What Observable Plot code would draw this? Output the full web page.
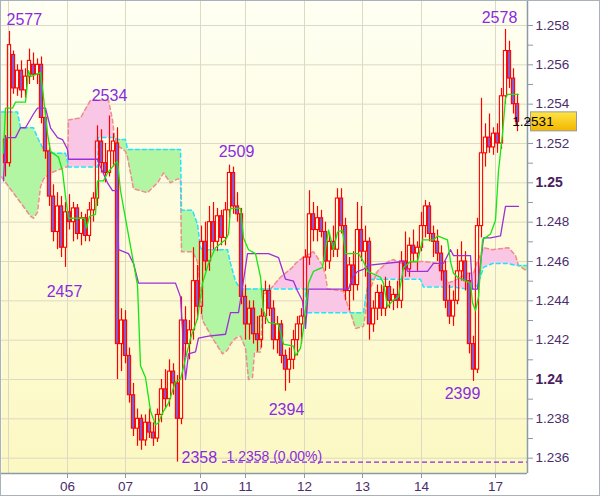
<!DOCTYPE html>
<html>
<head>
<meta charset="utf-8">
<script src="https://cdn.jsdelivr.net/npm/d3@7"></script>
<script src="https://cdn.jsdelivr.net/npm/@observablehq/plot@0.6"></script>
<style>
  html, body { margin: 0; padding: 0; background: #ffffff; }
  #chart { width: 600px; height: 497px; }
</style>
</head>
<body>
<div id="chart"></div>
<script>
// ---- Candles (one bar per index) ----
const opens = [1.2522,1.2510,1.2565,1.2548,1.2557,1.2547,1.2554,1.2560,1.2555,1.2560,
1.2533,1.2516,1.2493,1.2475,1.2488,1.2467,1.2485,1.2480,1.2487,1.2474,
1.2482,1.2473,1.2486,1.2492,1.2521,1.2510,1.2505,1.2516,1.2520,1.2418,
1.2430,1.2412,1.2392,1.2375,1.2380,1.2369,1.2378,1.2373,1.2370,1.2382,
1.2395,1.2390,1.2404,1.2398,1.2380,1.2430,1.2418,1.2425,1.2450,1.2437,
1.2470,1.2460,1.2480,1.2470,1.2483,1.2472,1.2486,1.2505,1.2488,1.2484,
1.2442,1.2428,1.2436,1.2423,1.2420,1.2432,1.2445,1.2436,1.2420,1.2428,
1.2412,1.2405,1.2410,1.2420,1.2428,1.2432,1.2462,1.2484,1.2476,1.2482,
1.2475,1.2460,1.2470,1.2466,1.2492,1.2478,1.2445,1.2458,1.2448,1.2476,
1.2465,1.2470,1.2428,1.2436,1.2444,1.2436,1.2447,1.2440,1.2443,1.2440,
1.2460,1.2456,1.2468,1.2464,1.2467,1.2478,1.2488,1.2474,1.2470,1.2464,
1.2455,1.2440,1.2432,1.2440,1.2455,1.2460,1.2450,1.2418,1.2405,1.2478,
1.2515,1.2523,1.2518,1.2525,1.2520,1.2544,1.2567,1.2553,1.2540];
const highs = [1.2524,1.2577,1.2567,1.2560,1.2562,1.2558,1.2568,1.2566,1.2563,1.2564,
1.2537,1.2520,1.2499,1.2495,1.2493,1.2490,1.2494,1.2490,1.2489,1.2485,
1.2484,1.2490,1.2495,1.2529,1.2527,1.2520,1.2534,1.2525,1.2528,1.2436,
1.2435,1.2416,1.2398,1.2385,1.2382,1.2382,1.2385,1.2378,1.2385,1.2400,
1.2405,1.2410,1.2408,1.2402,1.2442,1.2437,1.2430,1.2467,1.2458,1.2478,
1.2480,1.2488,1.2490,1.2487,1.2486,1.2490,1.2509,1.2508,1.2495,1.2487,
1.2448,1.2440,1.2440,1.2432,1.2436,1.2450,1.2448,1.2440,1.2432,1.2430,
1.2415,1.2416,1.2425,1.2432,1.2436,1.2466,1.2496,1.2490,1.2488,1.2486,
1.2480,1.2474,1.2478,1.2497,1.2497,1.2482,1.2462,1.2465,1.2490,1.2488,
1.2478,1.2472,1.2440,1.2448,1.2448,1.2452,1.2450,1.2446,1.2450,1.2465,
1.2475,1.2472,1.2476,1.2470,1.2485,1.2491,1.2490,1.2478,1.2476,1.2468,
1.2460,1.2448,1.2445,1.2466,1.2470,1.2465,1.2454,1.2422,1.2482,1.2543,
1.2530,1.2535,1.2528,1.2530,1.2548,1.2578,1.2572,1.2558,1.2545];
const lows = [1.2503,1.2508,1.2545,1.2544,1.2543,1.2543,1.2550,1.2552,1.2550,1.2530,
1.2512,1.2488,1.2470,1.2466,1.2462,1.2457,1.2476,1.2470,1.2471,1.2468,
1.2470,1.2470,1.2480,1.2488,1.2505,1.2500,1.2503,1.2508,1.2400,1.2404,
1.2408,1.2388,1.2371,1.2366,1.2364,1.2366,1.2370,1.2366,1.2368,1.2378,
1.2385,1.2386,1.2392,1.2358,1.2377,1.2411,1.2410,1.2420,1.2430,1.2433,
1.2455,1.2455,1.2466,1.2465,1.2468,1.2468,1.2482,1.2484,1.2480,1.2438,
1.2420,1.2420,1.2418,1.2414,1.2416,1.2428,1.2432,1.2415,1.2413,1.2408,
1.2394,1.2398,1.2405,1.2412,1.2418,1.2428,1.2458,1.2470,1.2470,1.2472,
1.2455,1.2456,1.2462,1.2462,1.2474,1.2440,1.2435,1.2440,1.2445,1.2460,
1.2452,1.2420,1.2424,1.2430,1.2432,1.2432,1.2436,1.2435,1.2436,1.2436,
1.2452,1.2452,1.2460,1.2455,1.2465,1.2472,1.2470,1.2462,1.2460,1.2450,
1.2436,1.2428,1.2427,1.2438,1.2450,1.2445,1.2413,1.2399,1.2403,1.2472,
1.2508,1.2515,1.2514,1.2515,1.2517,1.2540,1.2548,1.2535,1.2526];
const closes = [1.2510,1.2570,1.2548,1.2557,1.2547,1.2554,1.2562,1.2555,1.2560,1.2533,
1.2516,1.2493,1.2475,1.2488,1.2467,1.2485,1.2480,1.2487,1.2474,1.2482,
1.2473,1.2486,1.2492,1.2521,1.2510,1.2505,1.2516,1.2521,1.2418,1.2430,
1.2412,1.2392,1.2375,1.2380,1.2369,1.2378,1.2373,1.2370,1.2382,1.2395,
1.2390,1.2404,1.2398,1.2380,1.2430,1.2418,1.2425,1.2450,1.2437,1.2470,
1.2460,1.2480,1.2470,1.2483,1.2472,1.2486,1.2505,1.2488,1.2484,1.2442,
1.2428,1.2436,1.2423,1.2420,1.2432,1.2445,1.2436,1.2420,1.2428,1.2412,
1.2405,1.2410,1.2420,1.2428,1.2432,1.2462,1.2484,1.2476,1.2482,1.2475,
1.2460,1.2470,1.2466,1.2492,1.2478,1.2445,1.2458,1.2448,1.2476,1.2465,
1.2470,1.2428,1.2436,1.2444,1.2436,1.2447,1.2440,1.2443,1.2440,1.2460,
1.2456,1.2468,1.2464,1.2467,1.2478,1.2488,1.2474,1.2470,1.2464,1.2455,
1.2440,1.2432,1.2440,1.2455,1.2460,1.2450,1.2418,1.2405,1.2478,1.2515,
1.2523,1.2518,1.2525,1.2520,1.2544,1.2567,1.2553,1.2540,1.2531];

// ---- Ichimoku lines (bar position, price) ----
const tenkanX = [-0.5,0,1.75,2.5,5,5.75,6.25,8.75,9.25,10.5,11.25,13.25,14.25,15,15.75,19.75,20.25,21,22.5,23,24.5,25.5,27.5,28,28.75,33,33.75,35,36.25,37.5,38.25,39.25,40.75,42.5,43.75,46.25,48,49.25,50.75,52.5,55,55.75,56.25,58.75,59.5,60.75,62.5,63.75,64.5,65.75,68.25,69.5,72,72.5,73.75,74.5,75.75,77,79.25,80,80.75,82,83,84.25,85,88.25,89.5,90.5,93.75,94.5,95.5,96.75,98.25,99.5,101.25,103,104.25,107,108,110.5,111.25,112,113,116.25,116.75,117.5,118.25,119.25,121.25,122.5,123.25,124.25,125,125.5,128.25];
const tenkanV = [1.2515,1.2538,1.2538,1.2541,1.2541,1.2557,1.2554,1.2556,1.2548,1.2525,1.2516,1.2513,1.2506,1.2493,1.2482,1.2482,1.2477,1.2483,1.2484,1.2501,1.2501,1.2505,1.2510,1.2511,1.2496,1.2448,1.2407,1.2401,1.2384,1.2377,1.2378,1.2383,1.2388,1.2399,1.2400,1.2421,1.2431,1.2449,1.2459,1.2467,1.2471,1.2474,1.2487,1.2487,1.2472,1.2466,1.2464,1.2452,1.2435,1.2429,1.2428,1.2418,1.2417,1.2412,1.2416,1.2426,1.2449,1.2455,1.2457,1.2466,1.2476,1.2466,1.2475,1.2476,1.2464,1.2464,1.2460,1.2455,1.2452,1.2449,1.2437,1.2440,1.2442,1.2457,1.2460,1.2460,1.2471,1.2471,1.2473,1.2471,1.2460,1.2454,1.2452,1.2449,1.2439,1.2435,1.2442,1.2471,1.2474,1.2481,1.2506,1.2525,1.2543,1.2545,1.2545];
const kijunX = [-0.5,0,2.5,3.75,5,7,8,10,11.25,13,14.25,15.5,15.75,23,23.75,25.5,26.75,28,28.25,30.75,32,33.25,42.5,43.75,45,45.75,47.5,48.25,50.75,55,56.25,58.25,59.25,60.5,65.75,68.25,70,72,73,74.25,75,75.75,85.75,86.75,88,89.5,90.5,99.5,100.5,105.5,107,109.5,111.25,112,116.25,116.75,118,119.5,121.25,123.75,125,128.25];
const kijunV = [1.2501,1.2523,1.2523,1.2528,1.2528,1.2535,1.2538,1.2538,1.2528,1.2523,1.2522,1.2517,1.2512,1.2512,1.2508,1.2500,1.2496,1.2496,1.2466,1.2464,1.2459,1.2449,1.2449,1.2442,1.2400,1.2413,1.2414,1.2421,1.2422,1.2423,1.2434,1.2434,1.2447,1.2464,1.2464,1.2462,1.2451,1.2450,1.2445,1.2440,1.2426,1.2446,1.2446,1.2452,1.2455,1.2456,1.2458,1.2460,1.2455,1.2455,1.2459,1.2459,1.2466,1.2463,1.2463,1.2446,1.2446,1.2472,1.2472,1.2473,1.2488,1.2488];

// ---- Cloud (leading spans, as displayed) ----
const cloudX = [-1,3,3.75,6.25,7,8,8.75,9.5,11.25,15,15.5,15.75,18.75,21.25,23,23.25,25.75,26.75,27.25,28,30,30.5,32,35.5,38,39.5,41.25,43,43.75,44,46.75,48,48.75,49.25,51.75,54.25,55.5,56.25,57.5,58.75,60,60.75,61.75,62.25,63.75,64.5,66.25,67.5,68.75,71.75,72.5,75,75.25,77,78,79.25,80,80.5,84.5,85.5,86.25,87.5,89.5,90.75,93,95.75,97,98.75,103.75,104.5,108,109.5,110.5,112,115.5,117,118,119.5,121.75,125.75,127.5,128.25,130.5];
const spanA = [1.2536,1.2536,1.2528,1.2528,1.2528,1.2523,1.2520,1.2517,1.2515,1.2515,1.2511,1.2508,1.2508,1.2508,1.2508,1.2523,1.2523,1.2523,1.2523,1.2522,1.2522,1.2517,1.2517,1.2517,1.2517,1.2517,1.2517,1.2517,1.2517,1.2486,1.2486,1.2479,1.2467,1.2466,1.2466,1.2466,1.2466,1.2459,1.2450,1.2446,1.2446,1.2446,1.2446,1.2446,1.2446,1.2446,1.2446,1.2446,1.2446,1.2446,1.2446,1.2446,1.2434,1.2434,1.2434,1.2434,1.2434,1.2434,1.2434,1.2434,1.2434,1.2434,1.2434,1.2451,1.2451,1.2451,1.2451,1.2451,1.2451,1.2447,1.2447,1.2447,1.2447,1.2447,1.2446,1.2446,1.2448,1.2457,1.2459,1.2459,1.2458,1.2458,1.2458];
const spanB = [1.2503,1.2492,1.2490,1.2483,1.2482,1.2485,1.2498,1.2502,1.2505,1.2508,1.2508,1.2532,1.2533,1.2542,1.2542,1.2542,1.2542,1.2532,1.2523,1.2519,1.2516,1.2513,1.2497,1.2495,1.2500,1.2505,1.2500,1.2502,1.2502,1.2465,1.2465,1.2460,1.2445,1.2430,1.2421,1.2413,1.2415,1.2418,1.2421,1.2422,1.2416,1.2400,1.2401,1.2414,1.2414,1.2443,1.2446,1.2449,1.2452,1.2457,1.2459,1.2463,1.2463,1.2465,1.2462,1.2458,1.2453,1.2446,1.2445,1.2438,1.2434,1.2426,1.2427,1.2444,1.2455,1.2460,1.2461,1.2459,1.2460,1.2460,1.2459,1.2454,1.2449,1.2450,1.2454,1.2454,1.2460,1.2467,1.2466,1.2467,1.2463,1.2458,1.2455];

// ---- Axis ticks / labels ----
const dayTicks = [15.5, 30, 48.75, 60, 74.75, 89.25, 104, 122.5];
const dayLabels = ["06", "07", "10", "11", "12", "13", "14", "17"];
const dayGrid = [0.75, 15.5, 30, 48.75, 60, 74.75, 89.25, 104, 122.5];
const priceTicks = [1.236, 1.238, 1.242, 1.244, 1.246, 1.248, 1.252, 1.254, 1.256, 1.258];
const boldTicks = [1.24, 1.25];
const minorTicks = [1.237, 1.239, 1.241, 1.243, 1.245, 1.247, 1.249, 1.251, 1.253, 1.255, 1.257];
const lastPrice = 1.2531;
const lowLevel = 1.2358;
const lowLevelStart = 54.25;

// ---- High/low annotations: bar index and price ----
const annBars = [1, 26, 15, 56, 70, 43, 117, 125];
const annPrices = [1.2577, 1.2534, 1.2457, 1.2509, 1.2394, 1.2358, 1.2399, 1.2578];

const xDomain = [-1, 130.5];
const yDomain = [1.23522, 1.25922];

const bars = opens.map((o, i) => ({i, o, h: highs[i], l: lows[i], c: closes[i]}));
const tenkan = tenkanX.map((x, k) => ({x, v: tenkanV[k]}));
const kijun = kijunX.map((x, k) => ({x, v: kijunV[k]}));
const cloud = cloudX.map((x, k) => ({x, a: spanA[k], b: spanB[k]}));
const dayLabelMap = new Map(dayTicks.map((d, k) => [d, dayLabels[k]]));

const annStyle = [
  {anchor: "start", dx: -3, dy: -12},
  {anchor: "middle", dx: 0, dy: -20},
  {anchor: "middle", dx: -1, dy: 24},
  {anchor: "middle", dx: 7, dy: -13},
  {anchor: "middle", dx: 1, dy: 19},
  {anchor: "start", dx: 4, dy: -4},
  {anchor: "middle", dx: -11, dy: 12},
  {anchor: "middle", dx: -6, dy: -12}
];
const annMarks = annBars.map((b, k) => Plot.text([{i: b, v: annPrices[k]}], {
  x: "i", y: "v",
  text: d => String(Math.round(d.v * 10000)).slice(-4),
  textAnchor: annStyle[k].anchor, dx: annStyle[k].dx, dy: annStyle[k].dy,
  lineAnchor: "middle", fontSize: 16, fill: "#8a2be2"
}));

const RED = "#ff0000";
const FONT = "'Liberation Sans', Arial, sans-serif";
const AXC = "#4b2d6b";
const W = 600, H = 497, ML = 1, MR = 73, MT = 1, MB = 24;

const chart = Plot.plot({
  width: W, height: H,
  marginLeft: ML, marginRight: MR, marginTop: MT, marginBottom: MB,
  x: {domain: xDomain, axis: null},
  y: {domain: yDomain, axis: null},
  style: {fontFamily: FONT, background: "#ffffff", overflow: "visible"},
  marks: [
    Plot.frame({fill: "url(#bg)", stroke: "none"}),
    Plot.ruleY(priceTicks.concat(boldTicks), {stroke: "#dcdac2", strokeWidth: 1}),
    Plot.ruleX(dayGrid, {stroke: "#dcdac2", strokeWidth: 1}),
    // cloud fills
    Plot.areaY(cloud, {x: "x", y1: "b", y2: d => Math.max(d.a, d.b), fill: "#b2f5a2"}),
    Plot.areaY(cloud, {x: "x", y1: "a", y2: d => Math.max(d.a, d.b), fill: "#f9c6e6"}),
    Plot.line(cloud, {x: "x", y: "b", stroke: "#f08c8c", strokeWidth: 1.5, strokeDasharray: "4,3"}),
    Plot.line(cloud, {x: "x", y: "a", stroke: "#22e2ff", strokeWidth: 1.5, strokeDasharray: "4,3"}),
    // candles
    Plot.ruleX(bars, {x: "i", y1: "h", y2: d => Math.max(d.o, d.c), stroke: RED, strokeWidth: 1.2}),
    Plot.ruleX(bars, {x: "i", y1: d => Math.min(d.o, d.c), y2: "l", stroke: RED, strokeWidth: 1.2}),
    Plot.rect(bars.filter(d => d.c >= d.o), {x1: d => d.i - 0.4, x2: d => d.i + 0.4, y1: "o", y2: "c", fill: "none", stroke: RED, strokeWidth: 1.1}),
    Plot.rect(bars.filter(d => d.c < d.o), {x1: d => d.i - 0.4, x2: d => d.i + 0.4, y1: "o", y2: "c", fill: "#8a58c8", stroke: RED, strokeWidth: 1.1}),
    // ichimoku lines
    Plot.line(kijun, {x: "x", y: "v", stroke: "#9b30d8", strokeWidth: 1.3}),
    Plot.line(tenkan, {x: "x", y: "v", stroke: "#10e810", strokeWidth: 1.3}),
    // lowest level marker
    Plot.ruleY([lowLevel], {x1: lowLevelStart, x2: xDomain[1], stroke: "#8a2be2", strokeWidth: 1.4, strokeDasharray: "5,3"}),
    Plot.text([lowLevel], {x: lowLevelStart + 1, y: d => d, text: d => `${d.toFixed(4)} (0.00%)`, textAnchor: "start", lineAnchor: "bottom", dy: -1, fontSize: 14, fill: "#8a2be2"}),
    ...annMarks,
    // axes frame lines
    Plot.ruleX([xDomain[1]], {stroke: "#8c9aa8", strokeWidth: 1.5}),
    Plot.ruleY([yDomain[0]], {stroke: "#8c9aa8", strokeWidth: 1.5}),
    Plot.axisY({anchor: "right", ticks: priceTicks, tickSize: 5, tickPadding: 3, tickFormat: d => String(+d.toFixed(3)), fontSize: 13.5, stroke: "#8c9aa8", fill: AXC}),
    Plot.axisY({anchor: "right", ticks: boldTicks, tickSize: 5, tickPadding: 3, tickFormat: d => String(+d.toFixed(3)), fontSize: 14, fontWeight: "bold", stroke: "#8c9aa8", fill: "#4a1d5e"}),
    Plot.axisY({anchor: "right", ticks: minorTicks, tickSize: 5, tickFormat: () => "", stroke: "#8c9aa8"}),
    Plot.axisX({anchor: "bottom", ticks: dayTicks, tickSize: 5, tickPadding: 3, tickFormat: d => dayLabelMap.get(d), fontSize: 13.5, stroke: "#8c9aa8", fill: AXC})
  ]
});

// gradient defs + last-price tag + outer border
const svg = d3.select(chart);
const defs = svg.insert("defs", ":first-child");
const bg = defs.append("linearGradient").attr("id", "bg").attr("x1", 0).attr("y1", 0).attr("x2", 0).attr("y2", 1);
bg.append("stop").attr("offset", "0%").attr("stop-color", "#fffff3");
bg.append("stop").attr("offset", "100%").attr("stop-color", "#fcf8c2");
const tagG = defs.append("linearGradient").attr("id", "tag").attr("x1", 0).attr("y1", 0).attr("x2", 0).attr("y2", 1);
tagG.append("stop").attr("offset", "0%").attr("stop-color", "#ffe545");
tagG.append("stop").attr("offset", "100%").attr("stop-color", "#f2b600");

const py = chart.scale("y").apply(lastPrice);
const px = W - MR;
const tag = svg.append("g");
tag.append("line").attr("x1", px - 1).attr("x2", px + 5).attr("y1", py).attr("y2", py).attr("stroke", "#7b2a9a").attr("stroke-width", 1.5);
tag.append("rect").attr("x", px + 3.5).attr("y", py - 9.5).attr("width", 46).attr("height", 19)
  .attr("fill", "url(#tag)").attr("stroke", "#9a9a9a").attr("stroke-width", 1);
tag.append("text").attr("x", px + 6).attr("y", py + 5).attr("font-size", 13.5).attr("font-family", FONT)
  .attr("fill", "#000").text(lastPrice.toFixed(4));
svg.append("rect").attr("x", 0.5).attr("y", 0.5).attr("width", W - 1).attr("height", H - 2)
  .attr("fill", "none").attr("stroke", "#a9b1b9").attr("stroke-width", 1);

document.getElementById("chart").appendChild(chart);
</script>
</body>
</html>
